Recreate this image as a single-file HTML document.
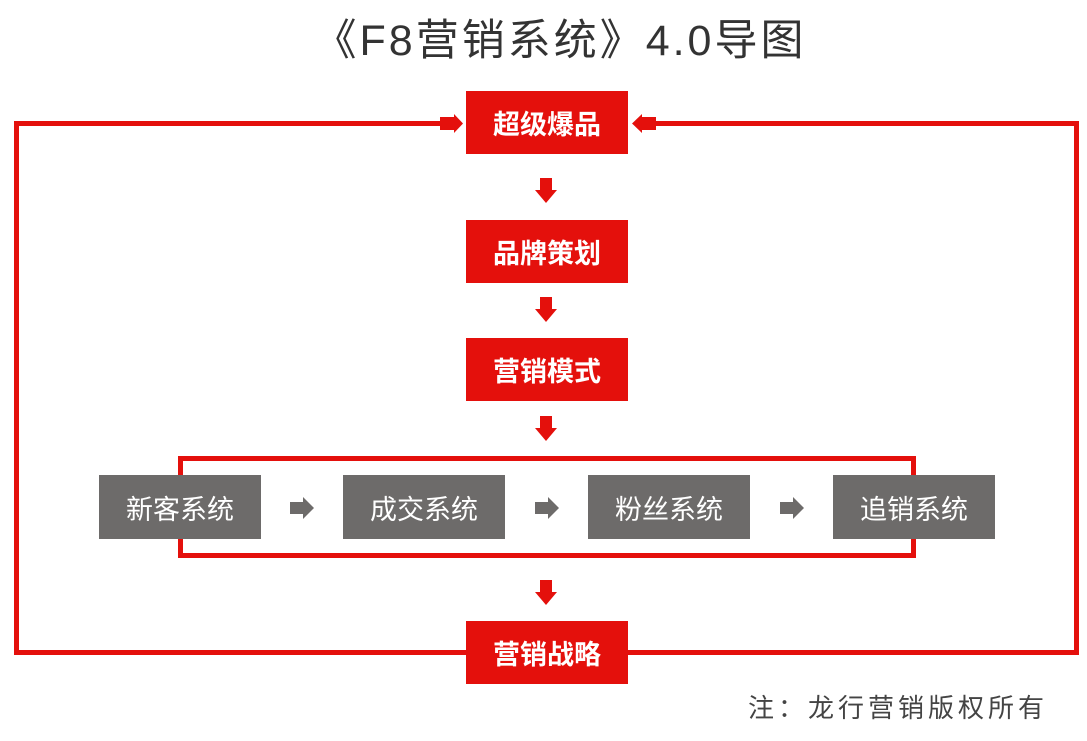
<!DOCTYPE html>
<html><head><meta charset="utf-8"><style>
body{margin:0;width:1087px;height:741px;background:#fff;position:relative;overflow:hidden;font-family:"Liberation Sans","Noto Sans CJK SC",sans-serif}
.a{position:absolute}
.r{position:absolute;background:#e4100c;color:#fff;font-size:27px;font-weight:bold;display:flex;align-items:center;justify-content:center;left:466px;width:162px;height:63px}
.g{position:absolute;background:#6d6b6a;color:#fff;font-size:27px;display:flex;align-items:center;justify-content:center;top:475px;width:162px;height:64px}
</style></head><body>
<div class="a" style="left:0;top:6px;width:1120px;text-align:center;font-size:43px;color:#333;letter-spacing:3px">《F8营销系统》4.0导图</div>
<svg class="a" style="left:0;top:0" width="1087" height="741">
<g fill="none" stroke="#e4100c" stroke-width="5">
<polyline points="440,123.5 16.5,123.5 16.5,652.5 466,652.5"/>
<polyline points="656,123.5 1076.5,123.5 1076.5,652.5 628,652.5"/>
<rect x="180.5" y="458.5" width="733" height="97"/>
</g>
<g fill="#e4100c">
<polygon points="440,117 454,117 454,114 463,123.5 454,133 454,130 440,130"/>
<polygon points="656,117 642,117 642,114 632,123.5 642,133 642,130 656,130"/>
<polygon points="540,178 552,178 552,190 557,190 546,203 535,190 540,190"/>
<polygon points="540,297 552,297 552,309 557,309 546,322 535,309 540,309"/>
<polygon points="540,416 552,416 552,428 557,428 546,441 535,428 540,428"/>
<polygon points="540,580 552,580 552,592 557,592 546,605 535,592 540,592"/>
</g>
<g fill="#6d6b6a">
<polygon points="290,502 303,502 303,497 314,508 303,519 303,514 290,514"/>
<polygon points="535,502 548,502 548,497 559,508 548,519 548,514 535,514"/>
<polygon points="780,502 793,502 793,497 804,508 793,519 793,514 780,514"/>
</g>
</svg>
<div class="r" style="top:91px">超级爆品</div>
<div class="r" style="top:220px">品牌策划</div>
<div class="r" style="top:338px">营销模式</div>
<div class="r" style="top:621px">营销战略</div>
<div class="g" style="left:99px">新客系统</div>
<div class="g" style="left:343px">成交系统</div>
<div class="g" style="left:588px">粉丝系统</div>
<div class="g" style="left:833px">追销系统</div>
<div class="a" style="left:748px;top:688px;font-size:26px;color:#444;letter-spacing:4px">注：龙行营销版权所有</div>
</body></html>
